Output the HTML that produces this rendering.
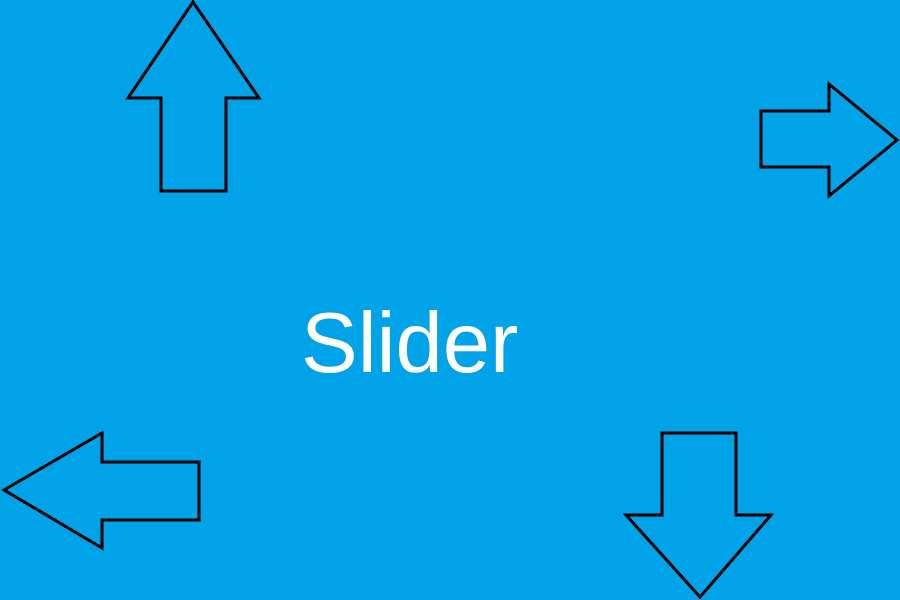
<!DOCTYPE html>
<html>
<head>
<meta charset="utf-8">
<style>
  html, body { margin: 0; padding: 0; }
  body { width: 900px; height: 600px; background: #00A2E8; overflow: hidden; position: relative; }
  svg { position: absolute; left: 0; top: 0; }
</style>
</head>
<body>
<svg width="900" height="600" viewBox="0 0 900 600">
  <g fill="none" stroke="#000" stroke-width="3" stroke-linejoin="miter">
    <polygon
      points="193,2 259,98 226,98 226,191 161,191 161,98 128,98"/>
    <polygon
      points="897,140 829,196 829,167 761,167 761,111 829,111 829,84"/>
    <polygon
      points="4,490 102,433 102,462 199,462 199,520 102,520 102,548"/>
    <polygon
      points="700,597 771,515 736,515 736,433 662,433 662,515 626,515"/>
  </g>
  <text x="301" y="372"
    font-family="Liberation Sans, sans-serif" font-size="85" fill="#fff">Slider</text>
</svg>
</body>
</html>
